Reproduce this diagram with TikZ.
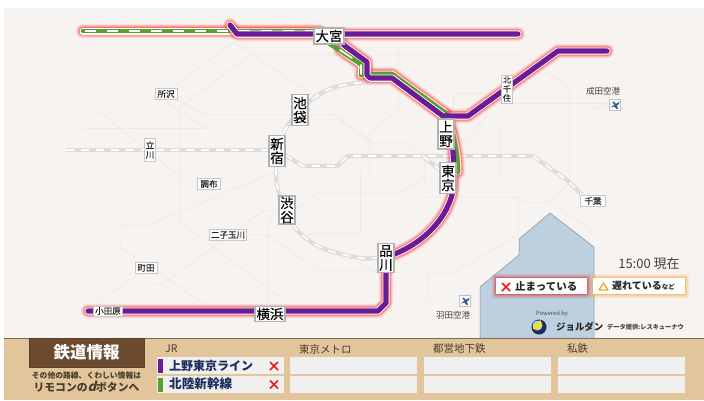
\documentclass[tikz,border=0pt]{standalone}
\usepackage{fontspec}
\setmainfont{Noto Sans CJK JP}
\newfontfamily\medfont{Noto Sans CJK JP}[FakeBold=0.15]
\definecolor{bgmap}{HTML}{F6F3F0}
\definecolor{faint}{HTML}{ECEAE7}
\definecolor{grayline}{HTML}{DCDCDC}
\definecolor{sea}{HTML}{BCD0E0}
\definecolor{purp}{HTML}{6A1B96}
\definecolor{grn}{HTML}{5A9E2E}
\definecolor{panel}{HTML}{E2C59B}
\definecolor{brownbox}{HTML}{6B4A2F}
\definecolor{navy}{HTML}{1C2C5C}
\definecolor{darktxt}{HTML}{4A3C2E}
\definecolor{cellbg}{HTML}{F0F0F0}
\definecolor{plane}{HTML}{2F5C94}
\definecolor{alarm}{HTML}{F01818}
\definecolor{warn}{HTML}{F5A030}
\definecolor{glow}{HTML}{FF2A2A}
\tikzset{
  fl/.style={faint,line width=.7pt,line join=round},
  jrline/.style={grayline,line width=4.2pt,line join=round},
  jrdash/.style={white,line width=1.7pt,dash pattern=on 8pt off 7pt,line join=round},
  casing/.style={white,line width=7pt,line join=round,line cap=round},
  purpline/.style={purp,line width=5.2pt,line join=round,line cap=round},
  grnline/.style={grn,line width=4.6pt,line join=round,line cap=round},
  grndash/.style={white,line width=2pt,dash pattern=on 11pt off 11pt,line join=round},
  stn/.style={draw=black!30,fill=white,line width=1.2pt,inner sep=0pt,align=center,text=black,font=\medfont\fontsize{13.5}{14}\selectfont},
  stns/.style={draw=black!22,fill=white,line width=.8pt,inner sep=0pt,align=center,text=black!85,font=\medfont\fontsize{8.5}{9.5}\selectfont},
  cell/.style={draw=none,fill=cellbg,inner sep=0pt,minimum height=17pt,minimum width=127pt},
  hdr/.style={text=darktxt,inner sep=0pt,font=\fontsize{10.5}{12}\selectfont},
  xmark/.style={alarm,line width=1.7pt},
}
\newcommand{\glowline}[1]{%
  \draw[glow,opacity=.07,line width=14.5pt,line join=round,line cap=round] #1;
  \draw[glow,opacity=.10,line width=13pt,line join=round,line cap=round] #1;
  \draw[glow,opacity=.14,line width=11.5pt,line join=round,line cap=round] #1;
  \draw[glow,opacity=.22,line width=10pt,line join=round,line cap=round] #1;
  \draw[glow,opacity=.35,line width=8.6pt,line join=round,line cap=round] #1;
  \draw[casing] #1;
}
\newcommand{\planeicon}[2]{%
  \fill[white,draw=black!25,line width=.5pt] (#1-5.5,#2-5.5) rectangle (#1+5.5,#2+5.5);
  \fill[plane] (#1-4.5,#2+2.5) -- (#1+4.5,#2-3.5) -- (#1+3.5,#2-.5) -- (#1+2,#2+.2) -- (#1+3,#2+4) -- (#1+1,#2+3.5) -- (#1-.5,#2+1.6) -- cycle;
  \fill[plane] (#1-3,#2-3.5) -- (#1-1.5,#2-3.5) -- (#1+1,#2-1.2) -- (#1-.8,#2-.2) -- cycle;
}
\begin{document}
\begin{tikzpicture}[x=1pt,y=-1pt]
\useasboundingbox (0,0) rectangle (704,400);
\fill[white] (0,0) rectangle (704,400);
\fill[bgmap] (4,8) rectangle (704,338);
% faint network
\draw[fl] (175,86) -- (234,42) -- (320,100);
\draw[fl] (180,150) -- (180,107) -- (250,55) -- (523,55) -- (570,88) -- (570,183) -- (547,203) -- (527,203) -- (518,197) -- (423,197);
\draw[fl] (165,95) -- (208,115) -- (335,115) -- (380,147);
\draw[fl] (167,103) -- (205,128) -- (270,128);
\draw[fl] (83,112) -- (100,112) -- (180,177);
\draw[fl] (83,128) -- (205,128);
\draw[fl] (120,150) -- (120,247) -- (203,303);
\draw[fl] (120,225) -- (148,225) -- (273,173);
\draw[fl] (180,150) -- (180,222) -- (278,296) -- (380,296);
\draw[fl] (98,303) -- (137,275);
\draw[fl] (153,284) -- (163,284) -- (263,211) -- (278,211);
\draw[fl] (247,235) -- (268,235) -- (317,270) -- (377,270);
\draw[fl] (268,303) -- (268,222) -- (278,211);
\draw[fl] (295,210) -- (318,193) -- (400,193) -- (425,177);
\draw[fl] (308,233) -- (360,233) -- (360,170);
\draw[fl] (360,263) -- (377,273);
\draw[fl] (398,47) -- (398,110) -- (370,133) -- (370,177);
\draw[fl] (340,120) -- (370,143) -- (410,143) -- (425,157) -- (425,187);
\draw[fl] (507,103) -- (609,103);
\draw[fl] (592,177) -- (592,110) -- (609,103);
\draw[fl] (453,115) -- (453,93) -- (497,93);
\draw[fl] (500,177) -- (500,125);
\draw[fl] (463,143) -- (490,113);
\draw[fl] (518,197) -- (518,235) -- (453,273) -- (427,273) -- (427,298) -- (437,303);
\draw[fl] (557,207) -- (597,233);
% grey JR lines
\foreach \st in {jrline,jrdash}{
  \draw[\st] (66,150) -- (270,150);
  \draw[\st] plot[smooth,tension=.6] coordinates {(380,257) (360,258) (320,247) (293,225) (278,190) (276,165)};
  \draw[\st] plot[smooth,tension=.6] coordinates {(283,133) (300,110) (327,90) (357,83) (370,83)};
  \draw[\st] (285,155) -- (303,166) -- (337,166) -- (348,156) -- (533,156) -- (567,180) -- (582,195);
  \draw[\st] (423,156) -- (440,170);
}
% sea
\fill[sea,draw=black!45,line width=.5pt] (480,338) -- (480,287) -- (519,255) -- (519,239) -- (550,213) -- (594,247) -- (594,338);
% active lines: glow and casing
\glowline{(83,31) -- (232,31) -- (320,31)}
\glowline{(230,25) -- (237,34) -- (518,34)}
\glowline{(340,50) -- (362,65) -- (361,75) -- (370,74) -- (392,74) -- (447,114) .. controls (454,135) and (458,155) .. (458,172)}
\glowline{(607,51) -- (558,51) -- (468,116) -- (443,116) -- (392,78) -- (370,78) -- (367,75) -- (367,62) -- (345,46) -- (336,36)}
\glowline{(446,116) .. controls (452,135) and (455,155) .. (453,190) .. controls (449,215) and (425,245) .. (386,257)}
\glowline{(386,258) -- (386,303) -- (378,311) -- (88,311)}
% green
\draw[grnline] (83,31) -- (320,31);
\draw[grndash] (85,31) -- (320,31);
\draw[grnline] (330,44) -- (362,65) -- (361,75) -- (370,74) -- (392,74) -- (447,114) .. controls (454,135) and (458,155) .. (458,172);
\draw[white,line width=1.6pt,line cap=round] (340,50) -- (352,58);
\draw[white,line width=1.6pt,line cap=round] (361,65) -- (361,74);
% purple
\draw[casing] (230,25) -- (237,34) -- (518,34);
\draw[purpline] (230,25) -- (237,34) -- (518,34);
\draw[casing] (367,62) -- (367,75) -- (370,78) -- (392,78) -- (443,116);
\draw[purpline] (607,51) -- (558,51) -- (468,116) -- (443,116) -- (392,78) -- (370,78) -- (367,75) -- (367,62) -- (345,46) -- (336,36);
\draw[purpline] (446,116) .. controls (452,135) and (455,155) .. (453,190) .. controls (449,215) and (425,245) .. (386,257);
\draw[purpline] (386,258) -- (386,303) -- (378,311) -- (88,311);
% stations
\node[stn,minimum width=30pt,minimum height=16pt] (omiya) at (329,36) {大宮};
\node[stn,minimum width=16pt,minimum height=31pt] (ikebukuro) at (300,110) {池\\袋};
\node[stn,minimum width=16pt,minimum height=31pt] (shinjuku) at (277,151) {新\\宿};
\node[stn,minimum width=16pt,minimum height=28pt] (shibuya) at (287,210) {渋\\谷};
\node[stn,minimum width=16pt,minimum height=30pt] (ueno) at (446,134) {上\\野};
\node[stn,minimum width=16pt,minimum height=31pt] (tokyo) at (448,178) {東\\京};
\node[stn,minimum width=16pt,minimum height=29pt] (shinagawa) at (386,258) {品\\川};
\node[stn,minimum width=30pt,minimum height=15pt] (yokohama) at (270,314) {横浜};
\node[stns,minimum width=29pt,minimum height=10pt] (odawara) at (108,311) {小田原};
\node[stns,minimum width=22pt,minimum height=11pt] (tokorozawa) at (166,94) {所沢};
\node[stns,minimum width=11pt,minimum height=23pt] (tachikawa) at (150,150) {立\\川};
\node[stns,minimum width=11pt,minimum height=28pt,font=\medfont\fontsize{8}{9}\selectfont] (kitasenju) at (507,89) {北\\千\\住};
\node[stns,minimum width=25pt,minimum height=11pt] (chiba) at (593,201) {千葉};
\node[stns,minimum width=23pt,minimum height=11pt] (chofu) at (209,184) {調布};
\node[stns,minimum width=37pt,minimum height=11pt] (futako) at (228,235) {二子玉川};
\node[stns,minimum width=22pt,minimum height=11pt] (machida) at (146,268) {町田};
% airports
\node[inner sep=0pt,text=black!75,font=\fontsize{8.5}{10}\selectfont] (narita) at (603,91) {成田空港};
\planeicon{615}{105}
\node[inner sep=0pt,text=black!75,font=\fontsize{8.5}{10}\selectfont] (haneda) at (453,315) {羽田空港};
\planeicon{465}{301}
% time
\node[inner sep=0pt,text=black!75,font=\fontsize{13}{15}\selectfont] (now) at (649,264) {15:00 現在};
% legend
\foreach \w/\o in {9/.06,7/.10,5/.16,3/.22,1.5/.25}{
  \fill[alarm,opacity=\o,rounded corners=2pt] (496-\w/2,278-\w/2) rectangle (587+\w/2,294+\w/2);
  \fill[warn,opacity=\o,rounded corners=2pt] (593-\w/2,278-\w/2) rectangle (685+\w/2,294+\w/2);
}
\fill[white] (496,278) rectangle (587,294);
\fill[white] (593,278) rectangle (685,294);
\draw[xmark] (502,283) -- (510,291) (510,283) -- (502,291);
\draw[warn,line width=1.3pt,line join=round] (599,290) -- (608,290) -- (603.5,283) -- cycle;
\node[inner sep=0pt,text=black!85,font=\bfseries\fontsize{10.5}{12}\selectfont,anchor=west] (stopped) at (515,286.5) {止まっている};
\node[inner sep=0pt,text=black!85,font=\bfseries\fontsize{10}{12}\selectfont,anchor=west] (delayed) at (612,286) {遅れている\fontsize{6.5}{8}\selectfont など};
% logo
\node[inner sep=0pt,text=black!70,font=\fontsize{5.8}{7}\selectfont] (powered) at (552,314) {Powered by};
\fill[navy] (539,327) circle (7.5);
\fill[sea] (537.5,325.5) circle (5);
\fill[yellow!85!orange] (533,326) .. controls (536,326) and (539,324) .. (540,319.5) .. controls (544,324) and (540,330) .. (533,329) -- cycle;
\node[inner sep=0pt,text=black!85,font=\bfseries\fontsize{9.4}{13}\selectfont,anchor=west] (jorudan) at (556,327) {ジョルダン};
\node[inner sep=0pt,text=black!75,font=\bfseries\fontsize{6.2}{8}\selectfont,anchor=west] (source) at (607,327) {データ提供:レスキューナウ};
% bottom panel
\fill[panel] (4,338) rectangle (704,400);
\draw[black!45!panel,line width=.8pt] (4,338) -- (704,338);
\fill[brownbox,draw=brownbox!85!black,line width=.6pt] (29,338) rectangle (144,367);
\node[inner sep=0pt,text=white,font=\bfseries\fontsize{16.5}{18}\selectfont] (title) at (86.5,352.5) {鉄道情報};
\node[inner sep=0pt,text=darktxt,font=\bfseries\fontsize{7.8}{9}\selectfont] (hint1) at (86.5,375.5) {その他の路線、くわしい情報は};
\node[inner sep=0pt,text=darktxt,font=\bfseries\fontsize{10.8}{12}\selectfont] (hint2) at (86.5,387) {リモコンの{\addfontfeature{FakeSlant=0.25}\fontsize{13}{12}\selectfont d}ボタンへ};
\node[hdr,anchor=west] (hjr) at (165,349) {JR};
\node[hdr,anchor=west] (hmetro) at (299,349) {東京メトロ};
\node[hdr,anchor=west] (htoei) at (433,349) {都営地下鉄};
\node[hdr,anchor=west] (hpriv) at (567,349) {私鉄};
\foreach \nm/\x in {a/157,b/290,c/424,d/558}{
  \node[cell,anchor=north west] (cell\nm1) at (\x,357) {};
  \node[cell,anchor=north west] (cell\nm2) at (\x,376) {};
}
\fill[purp] (158,359) rectangle (163,373);
\fill[grn] (158,378) rectangle (163,392);
\node[inner sep=0pt,text=navy,font=\bfseries\fontsize{12}{14}\selectfont,anchor=west] (l1) at (169,365.5) {上野東京ライン};
\node[inner sep=0pt,text=navy,font=\bfseries\fontsize{12.6}{14}\selectfont,anchor=west] (l2) at (169,384) {北陸新幹線};
\draw[xmark] (270,362) -- (278,370) (278,362) -- (270,370);
\draw[xmark] (270,380.5) -- (278,388.5) (278,380.5) -- (270,388.5);
\end{tikzpicture}
\end{document}
